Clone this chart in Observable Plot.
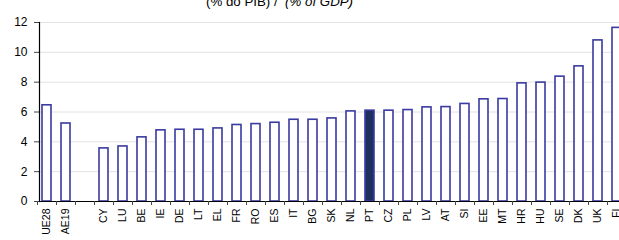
<!DOCTYPE html>
<html>
<head>
<meta charset="utf-8">
<script src="https://cdn.jsdelivr.net/npm/d3@7"></script>
<script src="https://cdn.jsdelivr.net/npm/@observablehq/plot@0.6"></script>
<style>
  html, body { margin: 0; padding: 0; background: #fff; overflow: hidden; }
  #chart svg { display: block; overflow: hidden; }
</style>
</head>
<body>
<div id="chart"></div>
<script>
const categories = ["UE28","AE19","","CY","LU","BE","IE","DE","LT","EL","FR","RO","ES","IT","BG","SK","NL","PT","CZ","PL","LV","AT","SI","EE","MT","HR","HU","SE","DK","UK","FI"];
const values = [6.45,5.23,null,3.56,3.69,4.3,4.77,4.81,4.81,4.9,5.13,5.19,5.28,5.48,5.48,5.57,6.04,6.09,6.09,6.13,6.31,6.33,6.54,6.85,6.87,7.92,7.97,8.37,9.06,10.8,11.64];
const highlight = "PT";
const yTicks = [0,2,4,6,8,10,12];
const titleMain = "(% do PIB) /\u00a0\u00a0";
const titleItalic = "(% of GDP)";

const data = categories.map((c, i) => ({cat: c, value: values[i]})).filter(d => d.value != null);

const band = (626 - 38) / categories.length;

const plot = Plot.plot({
  width: 619,
  height: 240,
  marginLeft: 39,
  marginRight: 0,
  marginTop: 22,
  marginBottom: 39,
  style: {fontFamily: "'Liberation Sans', Arial, sans-serif", background: "#fff"},
  x: {domain: categories, range: [38, 626], paddingInner: 0.52, paddingOuter: 0, align: 0.5, label: null},
  y: {domain: [0, 12], label: null},
  marks: [
    Plot.gridY(yTicks.filter(t => t > 0), {stroke: "#e2e2e2", strokeOpacity: 1, strokeWidth: 1}),
    Plot.barY(data, {
      x: "cat", y: "value",
      fill: d => d.cat === highlight ? "#1f3060" : "#ffffff",
      stroke: "#3a3aa0", strokeWidth: 1.6
    }),
    Plot.axisY(yTicks, {tickSize: 5, tickPadding: 7, fontSize: 12, stroke: "#444", color: "#000"}),
    Plot.frame({anchor: "left", stroke: "#000", strokeWidth: 1.2}),
    Plot.ruleY([0], {stroke: "#000", strokeWidth: 1.2}),
    Plot.axisX({tickSize: 4, text: null, dx: -band / 2, stroke: "#444"}),
    Plot.axisX({tickSize: 0, tickPadding: 7, tickRotate: -90, fontSize: 10.5, color: "#000"})
  ]
});

const svg = d3.select(plot);
const t = svg.append("text")
  .attr("x", 206).attr("y", 6)
  .attr("text-anchor", "start")
  .attr("font-family", "'Liberation Sans', Arial, sans-serif")
  .attr("font-size", 13.3)
  .attr("fill", "#000");
t.append("tspan").text(titleMain);
t.append("tspan").attr("font-style", "italic").text(titleItalic);

document.getElementById("chart").appendChild(plot);
</script>
</body>
</html>
